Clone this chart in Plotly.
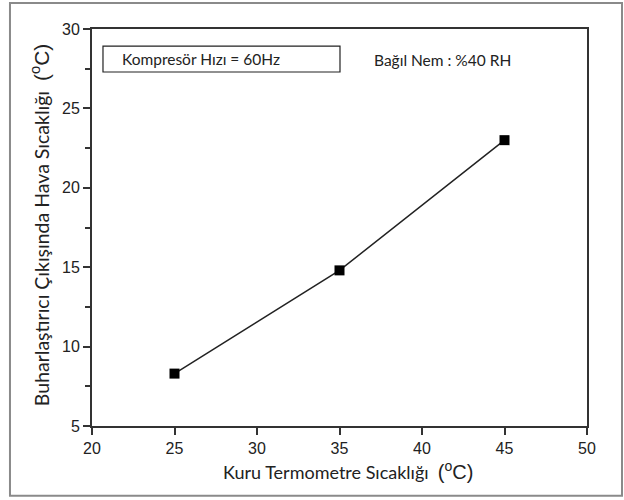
import plotly.graph_objects as go

# Dry-bulb temperature (°C) and evaporator outlet air temperature (°C)
dry_bulb = [25, 35, 45]
outlet_temp = [8.3, 14.8, 23.0]

x_ticks = [20, 25, 30, 35, 40, 45, 50]
y_ticks = [5, 10, 15, 20, 25, 30]

title_font = "Lato, 'Open Sans', sans-serif"
tick_font = "'Liberation Sans', Arial, sans-serif"

fig = go.Figure()
fig.add_trace(go.Scatter(
    x=dry_bulb, y=outlet_temp,
    mode="lines+markers",
    line=dict(color="#222222", width=1.5),
    marker=dict(symbol="square", size=10, color="black"),
    showlegend=False,
))

axis_common = dict(
    showgrid=False, zeroline=False,
    showline=True, linecolor="#333333", linewidth=2, mirror=True,
    ticks="outside", ticklen=7, tickwidth=1.5, tickcolor="#333333",
    tickfont=dict(family=tick_font, size=16, color="#222222"),
)

fig.update_xaxes(range=[20, 50], tickvals=x_ticks, **axis_common)
fig.update_yaxes(range=[5, 30], tickvals=y_ticks,
                 minor=dict(tickvals=[7.5, 12.5, 17.5, 22.5, 27.5], ticks="outside",
                            ticklen=5, tickwidth=1.5, tickcolor="#333333"),
                 **axis_common)

ann = []
# axis titles
ann.append(dict(
    text="Kuru Termometre Sıcaklığı  <span style=\"font-family:'Liberation Sans'; font-size:20px\">(<sup>o</sup>C)</span>",
    xref="paper", yref="paper", x=0.517, y=-0.111,
    showarrow=False, xanchor="center", yanchor="middle",
    font=dict(family=title_font, size=18, color="#222222"),
))
ann.append(dict(
    text="Buharlaştırıcı Çıkışında Hava Sıcaklığı  <span style=\"font-family:'Liberation Sans'; font-size:21px\">(<sup>o</sup>C)</span>",
    xref="paper", yref="paper", x=-0.105, y=0.506, textangle=-90,
    showarrow=False, xanchor="center", yanchor="middle",
    font=dict(family=title_font, size=19.5, color="#222222"),
))
# in-plot notes
ann.append(dict(
    text="Kompresör Hızı = 60Hz",
    xref="paper", yref="paper", x=0.0566, y=0.9244,
    showarrow=False, xanchor="left", yanchor="middle",
    font=dict(family=title_font, size=15.5, color="#222222"),
))
ann.append(dict(
    text="Bağıl Nem : %40 RH",
    xref="paper", yref="paper", x=0.5657, y=0.922,
    showarrow=False, xanchor="left", yanchor="middle",
    font=dict(family=title_font, size=15.5, color="#222222"),
))

shapes = [
    # frame around the compressor note
    dict(type="rect", xref="paper", yref="paper",
         x0=0.0222, x1=0.501, y0=0.8917, y1=0.957,
         line=dict(color="#222222", width=1.2), fillcolor="white", layer="below"),
    # outer figure border
    dict(type="rect", xref="paper", yref="paper",
         x0=-0.1657, x1=1.0707, y0=-0.176, y1=1.0655,
         line=dict(color="#8a8a8a", width=2)),
]

fig.update_layout(
    width=624, height=500,
    margin=dict(l=92, r=37, t=29, b=74),
    paper_bgcolor="white", plot_bgcolor="white",
    annotations=ann, shapes=shapes,
)

fig.write_html("out.html")
